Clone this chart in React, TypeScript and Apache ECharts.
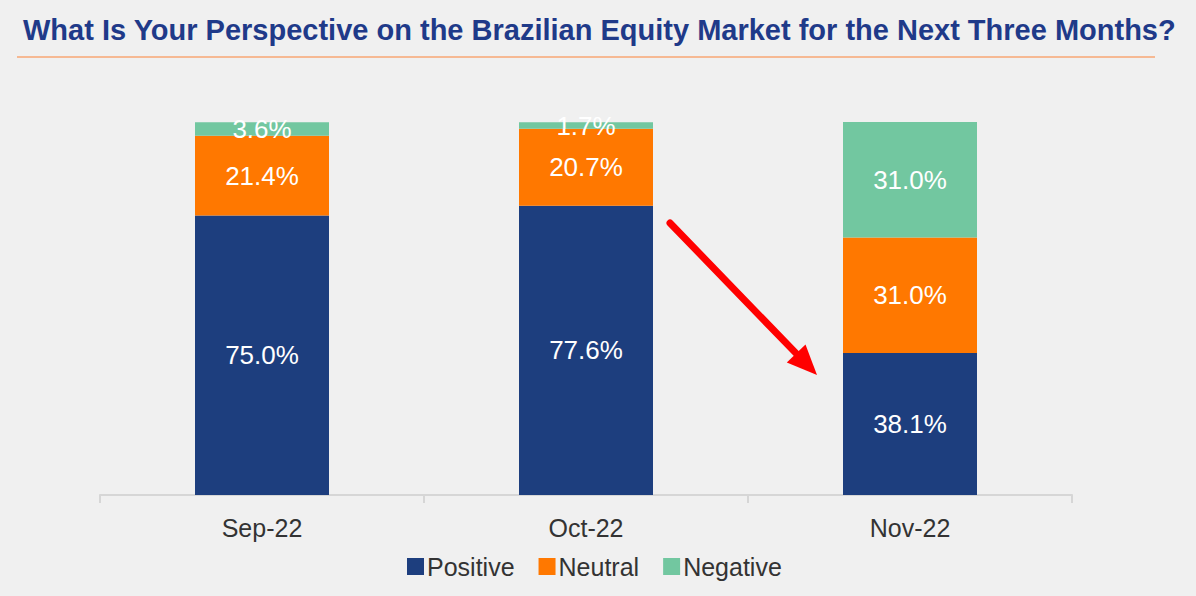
import { useEffect, useRef } from "react";
import * as echarts from "echarts";

const months = ["Sep-22", "Oct-22", "Nov-22"];
const positive = [75.0, 77.6, 38.1];
const neutral = [21.4, 20.7, 31.0];
const negative = [3.6, 1.7, 31.0];

const colors = { positive: "#1d3e7e", neutral: "#ff7800", negative: "#72c7a0" };

export default function App() {
  const chartRef = useRef<HTMLDivElement>(null);

  useEffect(() => {
    if (!chartRef.current) return;
    const chart = echarts.init(chartRef.current, null, { renderer: "svg" });

    const label = {
      show: true,
      position: "inside",
      color: "#ffffff",
      fontSize: 26,
      fontFamily: "Liberation Sans, Arial, sans-serif",
      formatter: (p: any) => `${Number(p.value).toFixed(1)}%`,
    };

    const makeSeries = (name: string, data: number[], color: string) => ({
      name,
      type: "bar",
      stack: "total",
      barWidth: 134,
      data,
      itemStyle: { color },
      label,
    });

    // arrow from Oct bar down towards Nov
    const tail = [670, 223];
    const tip = [817, 375];
    const dx = tip[0] - tail[0];
    const dy = tip[1] - tail[1];
    const len = Math.sqrt(dx * dx + dy * dy);
    const ux = dx / len;
    const uy = dy / len;
    const headLen = 30;
    const headHalf = 13;
    const base = [tip[0] - ux * headLen, tip[1] - uy * headLen];

    chart.setOption({
      animation: false,
      backgroundColor: "#f0f0f0",
      title: {
        text: "What Is Your Perspective on the Brazilian Equity Market for the Next Three Months?",
        left: 18,
        top: 10,
        textStyle: {
          color: "#1f3a89",
          fontSize: 29,
          fontWeight: "bold",
          fontFamily: "Liberation Sans, Arial, sans-serif",
        },
      },
      legend: {
        bottom: 12,
        left: 402,
        icon: "rect",
        itemWidth: 17,
        itemHeight: 17,
        itemGap: 24,
        textStyle: {
          color: "#333333",
          fontSize: 25,
          fontFamily: "Liberation Sans, Arial, sans-serif",
          padding: [0, 0, 0, -2],
        },
        data: ["Positive", "Neutral", "Negative"],
      },
      grid: { left: 100, right: 124, top: 122, bottom: 101 },
      xAxis: {
        type: "category",
        data: months,
        axisLine: { lineStyle: { color: "#d6d6d6", width: 2 } },
        axisTick: { show: true, length: 8, lineStyle: { color: "#d6d6d6", width: 2 } },
        axisLabel: {
          color: "#333333",
          fontSize: 25,
          margin: 20,
          fontFamily: "Liberation Sans, Arial, sans-serif",
        },
      },
      yAxis: {
        type: "value",
        min: 0,
        max: 100.1,
        show: false,
        splitLine: { show: false },
      },
      series: [
        makeSeries("Positive", positive, colors.positive),
        makeSeries("Neutral", neutral, colors.neutral),
        makeSeries("Negative", negative, colors.negative),
      ],
      graphic: [
        {
          type: "line",
          shape: { x1: 17, y1: 57, x2: 1155, y2: 57 },
          style: { stroke: "#f6b993", lineWidth: 2 },
        },
        {
          type: "line",
          shape: { x1: tail[0], y1: tail[1], x2: base[0], y2: base[1] },
          style: { stroke: "#ff0000", lineWidth: 7, lineCap: "round" },
        },
        {
          type: "polygon",
          shape: {
            points: [
              [tip[0], tip[1]],
              [base[0] - uy * headHalf, base[1] + ux * headHalf],
              [base[0] + uy * headHalf, base[1] - ux * headHalf],
            ],
          },
          style: { fill: "#ff0000" },
        },
      ],
    });

    return () => chart.dispose();
  }, []);

  return (
    <div
      ref={chartRef}
      style={{ position: "fixed", left: 0, top: 0, width: 1196, height: 596 }}
    />
  );
}
